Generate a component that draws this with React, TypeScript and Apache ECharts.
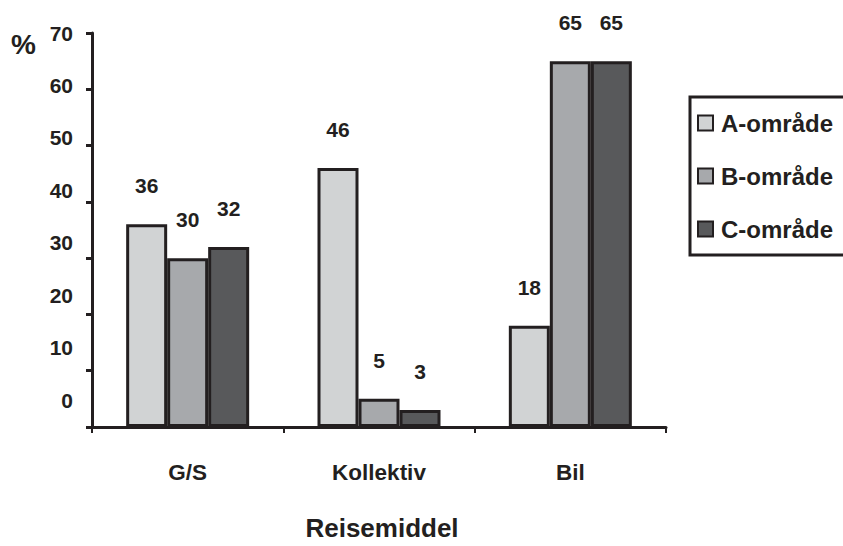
import React, { useEffect, useRef } from "react";
import * as echarts from "echarts";

const categories = ["G/S", "Kollektiv", "Bil"];
const seriesNames = ["A-område", "B-område", "C-område"];
const valuesA = [36, 46, 18];
const valuesB = [30, 5, 65];
const valuesC = [32, 3, 65];
const seriesColors = ["#d1d3d4", "#a7a9ac", "#58595b"];
const yMin = 0;
const yMax = 70;
const yStep = 10;

const ink = "#231f20";
const font = "'Liberation Sans', Arial, sans-serif";

export default function App() {
  const ref = useRef<HTMLDivElement>(null);

  useEffect(() => {
    if (!ref.current) return;
    const chart = echarts.init(ref.current, null, { renderer: "svg" });
    const allValues = [valuesA, valuesB, valuesC];

    chart.setOption({
      animation: false,
      backgroundColor: "#ffffff",
      textStyle: { fontFamily: font, color: ink },
      grid: [
        { left: 92, right: 177, top: 33, bottom: 117, containLabel: false },
        // label-only grid for the y tick labels
        { left: 92, right: 177, top: 33, bottom: 146, containLabel: false },
      ],
      legend: {
        orient: "vertical",
        left: 690,
        top: 97,
        padding: [13, 70, 13, 7],
        itemGap: 27,
        itemWidth: 15,
        itemHeight: 15,
        icon: "rect",
        borderColor: ink,
        borderWidth: 3,
        borderRadius: 0,
        backgroundColor: "#ffffff",
        textStyle: {
          fontFamily: font,
          fontWeight: "bold",
          fontSize: 24,
          lineHeight: 26,
          color: ink,
          padding: [0, 0, 0, 3],
        },
        data: seriesNames,
      },
      xAxis: [
        {
          type: "category",
          gridIndex: 0,
          data: categories,
          axisLine: { lineStyle: { color: ink, width: 3 } },
          axisTick: { show: true, length: 6, lineStyle: { color: ink, width: 2 } },
          axisLabel: {
            margin: 34,
            fontFamily: font,
            fontWeight: "bold",
            fontSize: 22.5,
            color: ink,
          },
          name: "Reisemiddel",
          nameLocation: "middle",
          nameGap: 88,
          nameTextStyle: {
            fontFamily: font,
            fontWeight: "bold",
            fontSize: 26,
            color: ink,
            padding: [0, 0, 0, 6],
          },
        },
        {
          type: "category",
          gridIndex: 1,
          data: categories,
          show: false,
        },
      ],
      yAxis: [
        {
          type: "value",
          gridIndex: 0,
          min: yMin,
          max: yMax,
          interval: yStep,
          splitLine: { show: false },
          axisLine: { show: true, lineStyle: { color: ink, width: 3 } },
          axisTick: { show: true, length: 6, lineStyle: { color: ink, width: 3 } },
          axisLabel: { show: false },
        },
        {
          type: "value",
          gridIndex: 1,
          min: yMin,
          max: yMax,
          interval: yStep,
          splitLine: { show: false },
          axisLine: { show: false },
          axisTick: { show: false },
          axisLabel: {
            margin: 19,
            fontFamily: font,
            fontWeight: "bold",
            fontSize: 21,
            color: ink,
          },
        },
      ],
      graphic: [
        {
          type: "text",
          left: 11,
          top: 30,
          style: {
            text: "%",
            fontFamily: font,
            fontWeight: "bold",
            fontSize: 28,
            fill: ink,
          },
        },
      ],
      series: seriesNames.map((name, i) => ({
        name,
        type: "bar",
        xAxisIndex: 0,
        yAxisIndex: 0,
        data: allValues[i],
        barWidth: 41,
        barGap: "0%",
        itemStyle: {
          color: seriesColors[i],
          borderColor: ink,
          borderWidth: 3,
        },
        label: {
          show: true,
          position: "top",
          distance: 28,
          fontFamily: font,
          fontWeight: "bold",
          fontSize: 21,
          color: ink,
        },
      })),
    });

    return () => chart.dispose();
  }, []);

  return (
    <div
      ref={ref}
      style={{ position: "fixed", left: 0, top: 0, width: 843, height: 546 }}
    />
  );
}
